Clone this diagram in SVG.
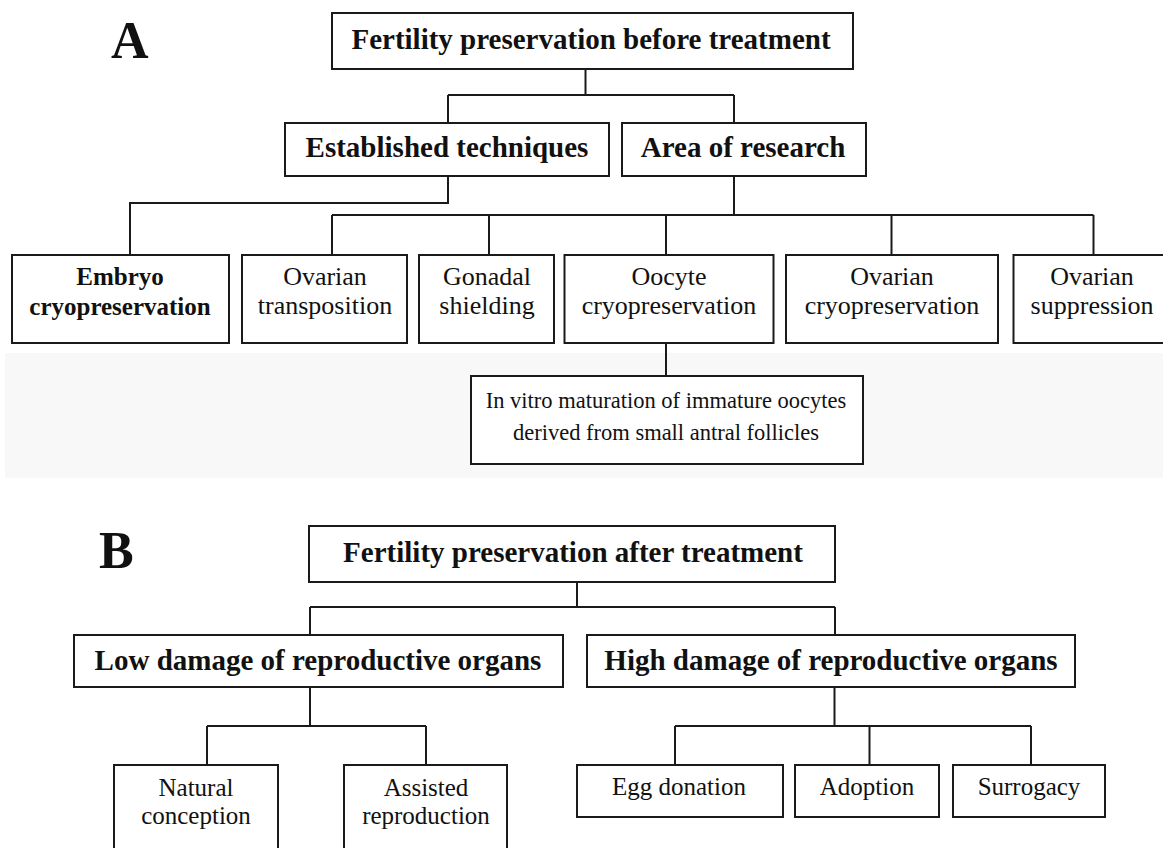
<svg xmlns="http://www.w3.org/2000/svg" width="1163" height="848" viewBox="0 0 1163 848">
<style>
  .box { fill: #ffffff; stroke: #1a1a1a; stroke-width: 2; }
  .wire { fill: none; stroke: #1a1a1a; stroke-width: 2; }
  text { font-family: "Liberation Serif", "Times New Roman", serif; fill: #111111; text-anchor: middle; }
  .hdr { font-size: 29px; font-weight: bold; }
  .lbl { font-size: 26px; }
  .lblb { font-size: 25px; font-weight: bold; }
  .lblB { font-size: 25px; }
  .sm { font-size: 22.5px; }
  .letter { font-size: 52px; font-weight: bold; text-anchor: start; }
</style>
<rect x="0" y="0" width="1163" height="848" fill="#ffffff"/>
<rect x="5" y="353" width="1158" height="125" fill="#f8f8f8"/>

<text class="letter" x="111" y="58">A</text>
<text class="letter" x="99" y="568">B</text>

<g id="connectors">
  <path class="wire" d="M585.5,69 V95 M448,95 H734 M448,95 V123 M734,95 V123"/>
  <path class="wire" d="M448,176 V203 H130 V255"/>
  <path class="wire" d="M734,176 V215 M332,215 H1093.5 M332,215 V255 M489,215 V255 M666,215 V255 M891.5,215 V255 M1093.5,215 V255"/>
  <path class="wire" d="M666,343 V376"/>
  <path class="wire" d="M577,582 V607 M310,607 H835 M310,607 V635 M835,607 V635"/>
  <path class="wire" d="M310,687 V726 M207,726 H426 M207,726 V765 M426,726 V765"/>
  <path class="wire" d="M834.5,687 V726 M675,726 H1031 M675,726 V765 M869.5,726 V765 M1031,726 V765"/>
</g>

<g id="nodeA-root">
  <rect class="box" x="332" y="13" width="521" height="56"/>
  <text class="hdr" x="591" y="49">Fertility preservation before treatment</text>
</g>
<g id="nodeA-established">
  <rect class="box" x="285" y="123" width="324" height="53"/>
  <text class="hdr" x="447" y="157">Established techniques</text>
</g>
<g id="nodeA-research">
  <rect class="box" x="622" y="123" width="244" height="53"/>
  <text class="hdr" x="743" y="157">Area of research</text>
</g>
<g id="nodeA-embryo">
  <rect class="box" x="12" y="255" width="217" height="88"/>
  <text class="lblb" x="120" y="285">Embryo</text>
  <text class="lblb" x="120" y="315">cryopreservation</text>
</g>
<g id="nodeA-transposition">
  <rect class="box" x="242" y="255" width="165" height="88"/>
  <text class="lbl" x="325" y="285">Ovarian</text>
  <text class="lbl" x="325" y="314">transposition</text>
</g>
<g id="nodeA-gonadal">
  <rect class="box" x="419" y="255" width="135" height="88"/>
  <text class="lbl" x="487" y="285">Gonadal</text>
  <text class="lbl" x="487" y="314">shielding</text>
</g>
<g id="nodeA-oocyte">
  <rect class="box" x="564.5" y="255" width="209" height="88"/>
  <text class="lbl" x="669" y="285">Oocyte</text>
  <text class="lbl" x="669" y="314">cryopreservation</text>
</g>
<g id="nodeA-ovcryo">
  <rect class="box" x="786" y="255" width="212" height="88"/>
  <text class="lbl" x="892" y="285">Ovarian</text>
  <text class="lbl" x="892" y="314">cryopreservation</text>
</g>
<g id="nodeA-suppression">
  <rect class="box" x="1013.5" y="255" width="160" height="88"/>
  <text class="lbl" x="1092" y="285">Ovarian</text>
  <text class="lbl" x="1092" y="314">suppression</text>
</g>
<g id="nodeA-ivm">
  <rect class="box" x="471" y="376" width="392" height="88"/>
  <text class="sm" x="666" y="408">In vitro maturation of immature oocytes</text>
  <text class="sm" x="666" y="440">derived from small antral follicles</text>
</g>

<g id="nodeB-root">
  <rect class="box" x="309" y="526" width="526" height="56"/>
  <text class="hdr" x="573" y="562">Fertility preservation after treatment</text>
</g>
<g id="nodeB-low">
  <rect class="box" x="74" y="635" width="489" height="52"/>
  <text class="hdr" x="318" y="670">Low damage of reproductive organs</text>
</g>
<g id="nodeB-high">
  <rect class="box" x="587" y="635" width="488" height="52"/>
  <text class="hdr" x="831" y="670">High damage of reproductive organs</text>
</g>
<g id="nodeB-natural">
  <rect class="box" x="114" y="765" width="164" height="110"/>
  <text class="lblB" x="196" y="796">Natural</text>
  <text class="lblB" x="196" y="824">conception</text>
</g>
<g id="nodeB-assisted">
  <rect class="box" x="344" y="765" width="163" height="110"/>
  <text class="lblB" x="426" y="796">Assisted</text>
  <text class="lblB" x="426" y="824">reproduction</text>
</g>
<g id="nodeB-egg">
  <rect class="box" x="577" y="765" width="206" height="52"/>
  <text class="lblB" x="679" y="795">Egg donation</text>
</g>
<g id="nodeB-adoption">
  <rect class="box" x="795" y="765" width="144" height="52"/>
  <text class="lblB" x="867" y="795">Adoption</text>
</g>
<g id="nodeB-surrogacy">
  <rect class="box" x="953" y="765" width="152" height="52"/>
  <text class="lblB" x="1029" y="795">Surrogacy</text>
</g>
</svg>
